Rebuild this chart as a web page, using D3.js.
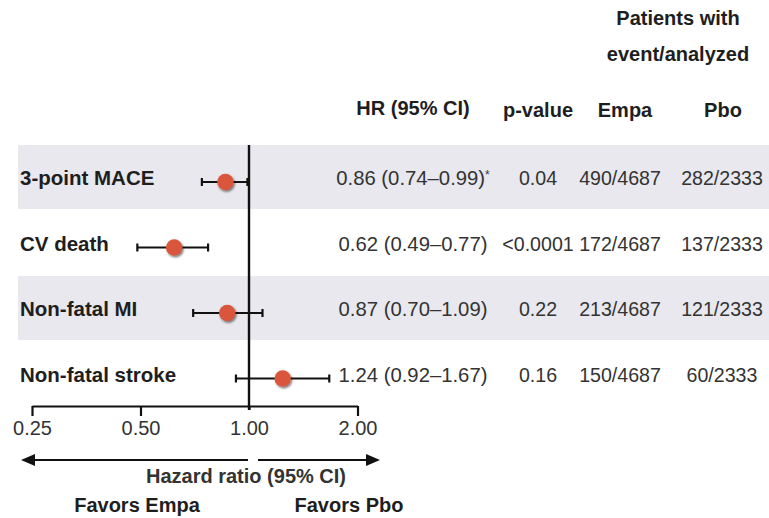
<!DOCTYPE html>
<html>
<head>
<meta charset="utf-8">
<script src="https://cdn.jsdelivr.net/npm/d3@7"></script>
<style>
  html, body { margin: 0; padding: 0; background: #fff; }
  svg { display: block; font-family: "Liberation Sans", Arial, sans-serif; }
</style>
</head>
<body>
<svg id="chart" width="769" height="518"></svg>
<script>
// ---- data ----
const outcomes = ["3-point MACE", "CV death", "Non-fatal MI", "Non-fatal stroke"];
const hr = [0.86, 0.62, 0.87, 1.24];
const ciLow = [0.74, 0.49, 0.70, 0.92];
const ciHigh = [0.99, 0.77, 1.09, 1.67];
const hrNote = ["*", "", "", ""];
const pValues = ["0.04", "<0.0001", "0.22", "0.16"];
const empaEvents = ["490/4687", "172/4687", "213/4687", "150/4687"];
const pboEvents = ["282/2333", "137/2333", "121/2333", "60/2333"];
const tickValues = [0.25, 0.5, 1, 2];
const tickLabels = ["0.25", "0.50", "1.00", "2.00"];

// ---- layout ----
const svg = d3.select("#chart");
const x = d3.scaleLog().base(2).domain([0.25, 2]).range([32, 357.5]);
const y = d3.scaleBand().domain(outcomes).range([145, 407]).paddingInner(0.0);
const bandH = 64;
const rowC = d => y(d) + bandH / 2;

const defs = svg.append("defs");
const f = defs.append("filter").attr("id", "shadow").attr("x", "-50%").attr("y", "-50%").attr("width", "200%").attr("height", "200%");
f.append("feDropShadow").attr("dx", 1.2).attr("dy", 1.6).attr("stdDeviation", 1.1)
  .attr("flood-color", "#000").attr("flood-opacity", 0.55);

// shaded bands
svg.selectAll("rect.band").data(outcomes.filter((d, i) => i % 2 === 0)).join("rect")
  .attr("class", "band")
  .attr("x", 18).attr("y", d => y(d))
  .attr("width", 769 - 18).attr("height", bandH)
  .attr("fill", "#e8e8ee");

// row labels
svg.selectAll("text.lab").data(outcomes).join("text")
  .attr("class", "lab")
  .attr("x", 20).attr("y", d => rowC(d) + 3)
  .attr("dominant-baseline", "middle")
  .attr("font-size", 20.5).attr("font-weight", "bold").attr("fill", "#1e1e1e")
  .text(d => d);

// reference line at 1
svg.append("line")
  .attr("x1", x(1)).attr("x2", x(1))
  .attr("y1", 145).attr("y2", 410)
  .attr("stroke", "#111").attr("stroke-width", 2.4);

// axis
const axis = d3.axisBottom(x).tickValues(tickValues)
  .tickFormat((d, i) => tickLabels[i]).tickSize(10).tickSizeOuter(0).tickPadding(5);
const ag = svg.append("g").attr("transform", "translate(0,406)").call(axis);
ag.select(".domain").attr("stroke", "#111").attr("stroke-width", 2.2);
ag.selectAll(".tick line").attr("stroke", "#111").attr("stroke-width", 2.2)
  .attr("y2", d => d === 1 ? 4 : 10);
ag.selectAll(".tick text").attr("font-size", 20).attr("fill", "#333")
  .attr("font-family", "Liberation Sans, Arial, sans-serif");

// whiskers
const g = svg.append("g");
outcomes.forEach((o, i) => {
  const cy = rowC(o) + 5;
  g.append("line").attr("x1", x(ciLow[i])).attr("x2", x(ciHigh[i]))
    .attr("y1", cy).attr("y2", cy).attr("stroke", "#111").attr("stroke-width", 2.2);
  [ciLow[i], ciHigh[i]].forEach(v => {
    g.append("line").attr("x1", x(v)).attr("x2", x(v))
      .attr("y1", cy - 4).attr("y2", cy + 4).attr("stroke", "#111").attr("stroke-width", 2.2);
  });
});
g.selectAll("circle").data(outcomes).join("circle")
  .attr("cx", (d, i) => x(hr[i])).attr("cy", d => rowC(d) + 5)
  .attr("r", 8.2).attr("fill", "#d9553a").attr("filter", "url(#shadow)");

// table text
const fmt = d3.format(".2f");
const colText = (vals, cx, cls, fs) => {
  svg.selectAll("text." + cls).data(vals).join("text")
    .attr("class", cls)
    .attr("x", cx).attr("y", (d, i) => rowC(outcomes[i]) + 3)
    .attr("dominant-baseline", "middle").attr("text-anchor", "middle")
    .attr("font-size", fs).attr("fill", "#333")
    .text(d => d);
};
const hrStr = hr.map((v, i) => `${fmt(v)} (${fmt(ciLow[i])}\u2013${fmt(ciHigh[i])})`);
const hrT = svg.selectAll("text.hr").data(hrStr).join("text")
  .attr("class", "hr")
  .attr("x", 413).attr("y", (d, i) => rowC(outcomes[i]) + 3)
  .attr("dominant-baseline", "middle").attr("text-anchor", "middle")
  .attr("font-size", 20.3).attr("fill", "#333");
hrT.append("tspan").text(d => d);
hrT.append("tspan").attr("font-size", 12).attr("dy", -4).text((d, i) => hrNote[i]);
colText(pValues, 538, "pv", 19.6);
colText(empaEvents, 620, "em", 19.6);
colText(pboEvents, 722, "pb", 19.6);

// headers
const header = (txt, cx, cy) => svg.append("text")
  .attr("x", cx).attr("y", cy).attr("text-anchor", "middle").attr("dominant-baseline", "middle")
  .attr("font-size", 20).attr("font-weight", "bold").attr("fill", "#1e1e1e").text(txt);
header("Patients with", 678, 20);
header("event/analyzed", 678, 56);
header("HR (95% CI)", 413, 110);
header("p-value", 538, 112);
header("Empa", 625, 112);
header("Pbo", 723, 112);

// arrows
const arrowY = 460;
const arrow = (xFrom, xTip) => {
  const dir = xTip > xFrom ? 1 : -1;
  svg.append("line").attr("x1", xFrom).attr("x2", xTip - dir * 10)
    .attr("y1", arrowY).attr("y2", arrowY).attr("stroke", "#111").attr("stroke-width", 2.2);
  svg.append("path")
    .attr("d", `M${xTip},${arrowY} L${xTip - dir * 14},${arrowY - 6} L${xTip - dir * 14},${arrowY + 6} Z`)
    .attr("fill", "#111");
};
arrow(x(1) - 1, 21);
arrow(x(1) + 9, 380);

svg.append("text").attr("x", 246).attr("y", 478).attr("text-anchor", "middle")
  .attr("dominant-baseline", "middle").attr("font-size", 20).attr("font-weight", "bold")
  .attr("fill", "#333").text("Hazard ratio (95% CI)");
svg.append("text").attr("x", 137).attr("y", 507).attr("text-anchor", "middle")
  .attr("dominant-baseline", "middle").attr("font-size", 20).attr("font-weight", "bold")
  .attr("fill", "#1e1e1e").text("Favors Empa");
svg.append("text").attr("x", 349).attr("y", 507).attr("text-anchor", "middle")
  .attr("dominant-baseline", "middle").attr("font-size", 20).attr("font-weight", "bold")
  .attr("fill", "#1e1e1e").text("Favors Pbo");
</script>
</body>
</html>
